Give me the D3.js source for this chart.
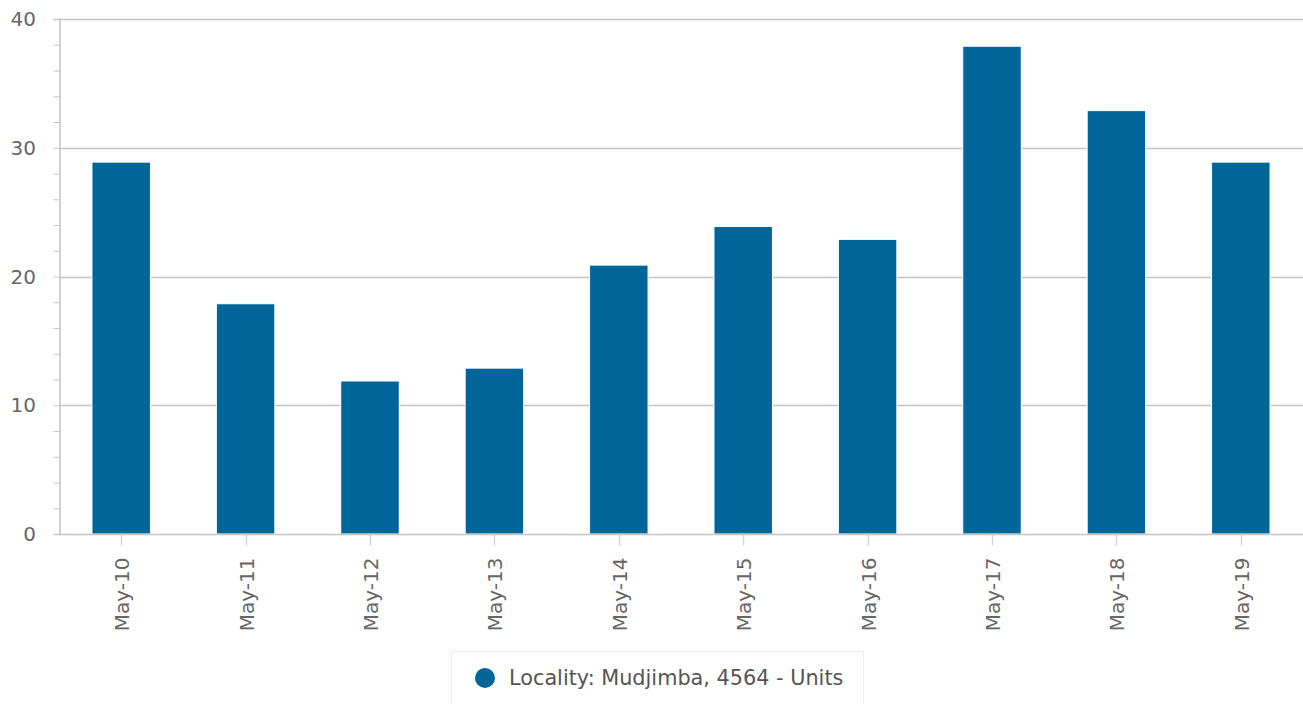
<!DOCTYPE html>
<html>
<head>
<meta charset="utf-8">
<script src="https://cdn.jsdelivr.net/npm/d3@7"></script>
<style>
  body { margin: 0; background: #fff; font-family: "DejaVu Sans", sans-serif; }
  svg text { fill: #666; }
</style>
</head>
<body>
<script>
// chart values
var categories = ["May-10", "May-11", "May-12", "May-13", "May-14", "May-15", "May-16", "May-17", "May-18", "May-19"];
var units = [29, 18, 12, 13, 21, 24, 23, 38, 33, 29];
var yTicks = [0, 10, 20, 30, 40];
var seriesName = "Locality: Mudjimba, 4564 - Units";

var width = 1303, height = 704;
var margin = {top: 19, right: 0, bottom: 170, left: 59};
var barColor = "#006699";

var svg = d3.select("body").append("svg")
    .attr("width", width)
    .attr("height", height);

var x = d3.scaleBand()
    .domain(categories)
    .range([margin.left, width - margin.right])
    .paddingInner(0.53)
    .paddingOuter(0.265);

var y = d3.scaleLinear()
    .domain([0, 40])
    .range([height - margin.bottom, margin.top]);

// gridlines
svg.append("g")
    .selectAll("line")
    .data(yTicks.slice(1))
    .enter()
    .append("line")
    .attr("x1", margin.left)
    .attr("x2", width)
    .attr("y1", function(d) { return Math.round(y(d)) + 0.5; })
    .attr("y2", function(d) { return Math.round(y(d)) + 0.5; })
    .style("stroke", "#c4c4c4")
    .style("stroke-width", 1.5);

// y axis, minor ticks every 2
var yAxis = svg.append("g")
    .attr("transform", "translate(" + (margin.left + 0.5) + ",0)")
    .call(d3.axisLeft(y).tickValues(d3.range(0, 41, 2)).tickSize(6).tickFormat(""));
yAxis.select(".domain").style("stroke", "#c4c4c4").style("stroke-width", 1.5);
yAxis.selectAll(".tick line").style("stroke", "#c4c4c4");

svg.append("g")
    .selectAll("text")
    .data(yTicks)
    .enter()
    .append("text")
    .attr("x", 36)
    .attr("y", function(d) { return y(d); })
    .attr("dy", "0.36em")
    .attr("text-anchor", "end")
    .style("font-size", "20px")
    .text(function(d) { return d; });

// bars
svg.append("g")
    .selectAll("rect")
    .data(units)
    .enter()
    .append("rect")
    .attr("x", function(d, i) { return x(categories[i]); })
    .attr("y", function(d) { return y(d) + 1.5; })
    .attr("width", x.bandwidth())
    .attr("height", function(d) { return y(0) - y(d) - 1.5; })
    .style("fill", barColor)
    .style("stroke", "#fff")
    .style("stroke-width", 1);

// x axis
var base = Math.round(y(0)) + 0.5;
svg.append("line")
    .attr("x1", margin.left)
    .attr("x2", width)
    .attr("y1", base)
    .attr("y2", base)
    .style("stroke", "#c4c4c4")
    .style("stroke-width", 1.5);

var xt = svg.append("g")
    .selectAll("g")
    .data(categories)
    .enter()
    .append("g")
    .attr("transform", function(d) { return "translate(" + (Math.round(x(d) + x.bandwidth() / 2) + 0.5) + "," + base + ")"; });

xt.append("line")
    .attr("y1", 0)
    .attr("y2", 11)
    .style("stroke", "#ccd6eb")
    .style("stroke-width", 1.5);

xt.append("text")
    .attr("transform", "translate(0,23) rotate(-90)")
    .attr("dy", "0.36em")
    .attr("text-anchor", "end")
    .style("font-size", "20px")
    .text(function(d) { return d; });

// legend
var legend = svg.append("g");
legend.append("rect")
    .attr("x", 451.5)
    .attr("y", 651.5)
    .attr("width", 412)
    .attr("height", 60)
    .style("fill", "#fff")
    .style("stroke", "#eee")
    .style("stroke-width", 1);
legend.append("circle")
    .attr("cx", 485)
    .attr("cy", 678)
    .attr("r", 10)
    .style("fill", barColor);
legend.append("text")
    .attr("x", 509)
    .attr("y", 678)
    .attr("dy", "0.36em")
    .style("font-size", "20.8px")
    .style("fill", "#555")
    .text(seriesName);
</script>
</body>
</html>
